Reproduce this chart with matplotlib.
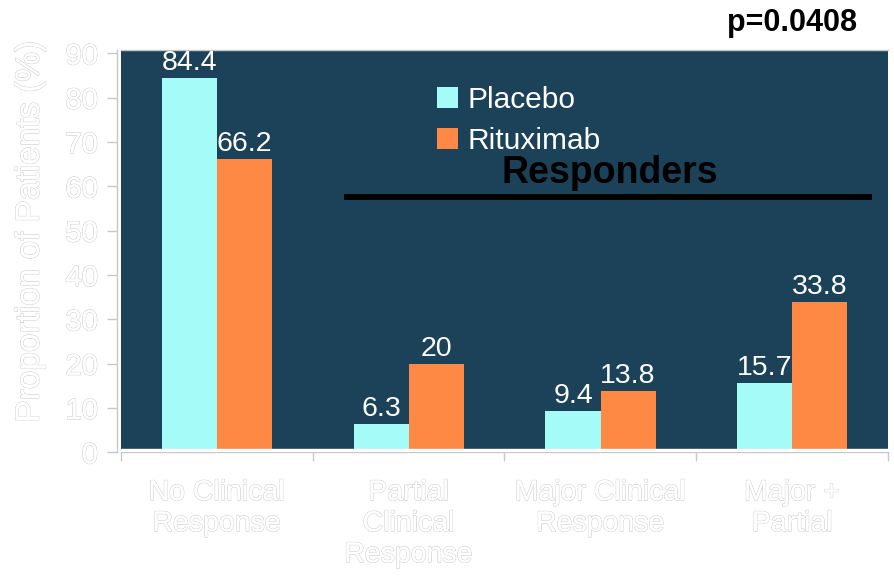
import numpy as np
import matplotlib

matplotlib.use("Agg")
import matplotlib.pyplot as plt
import matplotlib.patheffects as pe

plt.rcParams["font.family"] = ["Liberation Sans", "DejaVu Sans"]

# data
categories = ["No Clinical\nResponse", "Partial\nClinical\nResponse",
              "Major Clinical\nResponse", "Major +\nPartial"]
placebo = [84.4, 6.3, 9.4, 15.7]
rituximab = [66.2, 20, 13.8, 33.8]
series_names = ["Placebo", "Rituximab"]
yticks = list(range(0, 100, 10))
p_value = "p=0.0408"
bracket_label = "Responders"

BG = "#1c4259"
CYAN = "#a5fbf8"
ORANGE = "#fe8944"
GRID_GREY = "#c8c8c8"

outline = [pe.withStroke(linewidth=0.9, foreground="#cdcdcd"), pe.Normal()]

fig = plt.figure(figsize=(8.94, 5.83), dpi=100)
W, H = 894, 583
ax = fig.add_axes([120.7 / W, 1 - 452.3 / H, (888 - 120.7) / W, (452.3 - 50) / H])
ax.set_facecolor(BG)

# spines first: moving a spine rebuilds the tick objects
for side in ("left", "bottom", "top", "right"):
    ax.spines[side].set_color(GRID_GREY)
    ax.spines[side].set_linewidth(1)
ax.spines["left"].set_position(("outward", 3))
ax.spines["right"].set_visible(False)

x = np.arange(len(categories))
width = 0.287
b1 = ax.bar(x - 0.142, placebo, width, color=CYAN, label=series_names[0], zorder=2)
b2 = ax.bar(x + 0.145, rituximab, width, color=ORANGE, label=series_names[1], zorder=2)
for bars in (b1, b2):
    ax.bar_label(bars, fmt="{:g}", padding=1.5, color="white", fontsize=20.5)

ax.set_xlim(-0.5, len(categories) - 0.5)
ax.set_ylim(0, 90.75)
# thin white strip between plot area and x axis line
ax.axhspan(0, 0.68, color="white", zorder=3)

# y axis
ax.set_yticks(yticks)
ax.tick_params(axis="y", length=7, width=1, color=GRID_GREY, pad=6.5,
               labelsize=21, labelcolor="white")

# x axis: ticks between groups, labels at group centres
ax.set_xticks(np.arange(-0.5, len(categories)), labels=[""] * (len(categories) + 1))
ax.set_xticks(x, labels=categories, minor=True)
ax.tick_params(axis="x", which="major", length=6.5, width=1, color=GRID_GREY)
ax.tick_params(axis="x", which="minor", length=0, pad=20, labelsize=20.5,
               labelcolor="white")

ylab = ax.set_ylabel("Proportion of Patients (%)", fontsize=24, color="white",
                     va="center")
ylab.set_path_effects(outline)
ax.yaxis.set_label_coords(-0.118, 0.549)

leg = ax.legend(loc="upper left", bbox_to_anchor=(0.412, 0.91), frameon=False,
                fontsize=21.5, labelcolor="white", handlelength=0.72,
                handleheight=0.7, handletextpad=0.3, labelspacing=0.42,
                borderpad=0, borderaxespad=0)

# responders bracket
ax.plot([0.664, 3.417], [57.6, 57.6], color="black", lw=4.3, solid_capstyle="butt",
        zorder=4)
ax.text(2.051, 60.75, bracket_label, ha="center", va="baseline", fontsize=27,
        fontweight="bold", color="black", zorder=4)

fig.text(792 / W, 1 - 23 / H, p_value, ha="center", va="center", fontsize=22,
         fontweight="bold", color="black")

for lab in ax.get_yticklabels():
    lab.set_path_effects(outline)
for lab in ax.get_xticklabels(minor=True):
    lab.set_linespacing(1.25)
    lab.set_path_effects(outline)

fig.savefig("out.png", dpi=100, facecolor="white")
